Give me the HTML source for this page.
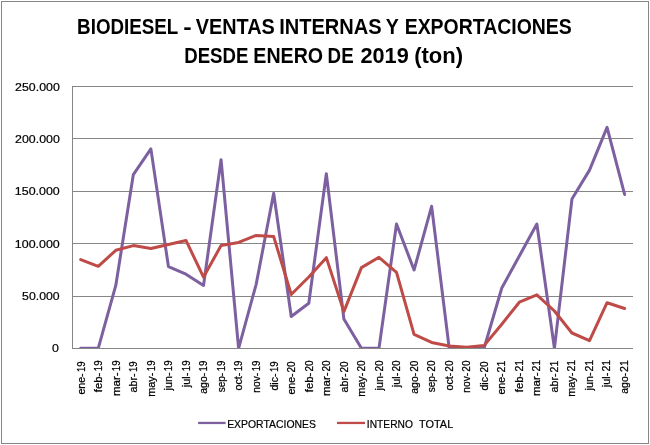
<!DOCTYPE html>
<html lang="es">
<head>
<meta charset="utf-8">
<title>BIODIESEL - VENTAS INTERNAS Y EXPORTACIONES</title>
<style>
html,body{margin:0;padding:0;background:#fff;}
body{width:650px;height:445px;overflow:hidden;}
svg{display:block;}
text{font-family:"Liberation Sans",sans-serif;fill:#000;}
.t{font-weight:bold;font-size:22px;}
.a{font-size:11px;stroke:#000;stroke-width:0.2px;}
.x{font-size:11px;stroke:#000;stroke-width:0.25px;}
</style>
</head>
<body>
<svg width="650" height="445" viewBox="0 0 650 445">
<rect x="0" y="0" width="650" height="445" fill="#fff"/>
<rect x="1.5" y="1.5" width="647" height="442" fill="none" stroke="#868686" stroke-width="1" shape-rendering="crispEdges"/>
<text class="t" y="34"><tspan x="77.12" textLength="100.87" lengthAdjust="spacingAndGlyphs">BIODIESEL</tspan> <tspan x="183.24" textLength="8.41" lengthAdjust="spacingAndGlyphs">-</tspan> <tspan x="195.77" textLength="79.00" lengthAdjust="spacingAndGlyphs">VENTAS</tspan> <tspan x="279.13" textLength="102.54" lengthAdjust="spacingAndGlyphs">INTERNAS</tspan> <tspan x="385.87" textLength="12.71" lengthAdjust="spacingAndGlyphs">Y</tspan> <tspan x="404.67" textLength="167.14" lengthAdjust="spacingAndGlyphs">EXPORTACIONES</tspan></text>
<text class="t" y="63"><tspan x="184.23" textLength="64.14" lengthAdjust="spacingAndGlyphs">DESDE</tspan> <tspan x="253.36" textLength="69.73" lengthAdjust="spacingAndGlyphs">ENERO</tspan> <tspan x="327.62" textLength="26.07" lengthAdjust="spacingAndGlyphs">DE</tspan> <tspan x="360.46" textLength="48.28" lengthAdjust="spacingAndGlyphs">2019</tspan> <tspan x="414.20" textLength="48.91" lengthAdjust="spacingAndGlyphs">(ton)</tspan></text>
<defs><clipPath id="pc"><rect x="72" y="86" width="562" height="262"/></clipPath></defs>
<g stroke="#868686" stroke-width="1" fill="none" shape-rendering="crispEdges">
<line x1="72" y1="86.5" x2="633" y2="86.5"/>
<line x1="72" y1="138.5" x2="633" y2="138.5"/>
<line x1="72" y1="191.5" x2="633" y2="191.5"/>
<line x1="72" y1="243.5" x2="633" y2="243.5"/>
<line x1="72" y1="296.5" x2="633" y2="296.5"/>
</g>
<g>
<text class="a" x="15.14" y="90.6" textLength="44.64" lengthAdjust="spacingAndGlyphs">250.000</text>
<text class="a" x="15.14" y="142.6" textLength="44.64" lengthAdjust="spacingAndGlyphs">200.000</text>
<text class="a" x="14.85" y="194.6" textLength="44.93" lengthAdjust="spacingAndGlyphs">150.000</text>
<text class="a" x="14.85" y="247.6" textLength="44.93" lengthAdjust="spacingAndGlyphs">100.000</text>
<text class="a" x="22.14" y="299.6" textLength="37.51" lengthAdjust="spacingAndGlyphs">50.000</text>
<text class="a" x="51.94" y="351.6" textLength="6.88" lengthAdjust="spacingAndGlyphs">0</text>
</g>
<g clip-path="url(#pc)" fill="none" stroke-width="3" stroke-linejoin="round" stroke-linecap="round">
<polyline stroke="#7D60A0" points="80.70,348.30 98.25,348.30 115.79,285.42 133.34,174.54 150.88,148.87 168.43,266.56 185.97,274.21 203.52,285.42 221.06,159.66 238.61,348.30 256.15,284.37 273.69,193.20 291.24,316.55 308.79,303.24 326.33,173.70 343.88,318.96 361.42,348.30 378.97,348.30 396.51,224.01 414.06,270.01 431.60,206.30 449.15,347.78 466.69,348.30 484.24,347.78 501.78,288.04 519.33,256.08 536.87,224.01 554.42,348.30 571.96,198.96 589.51,170.14 607.05,127.38 624.60,194.45"/>
<polyline stroke="#BE4B48" points="80.70,259.64 98.25,266.35 115.79,250.31 133.34,245.60 150.88,248.53 168.43,244.55 185.97,240.46 203.52,277.04 221.06,245.60 238.61,242.45 256.15,235.43 273.69,236.58 291.24,294.54 308.79,277.04 326.33,257.65 343.88,311.62 361.42,267.60 378.97,257.33 396.51,272.42 414.06,334.36 431.60,342.43 449.15,345.99 466.69,347.25 484.24,345.37 501.78,324.20 519.33,302.19 536.87,294.85 554.42,310.99 571.96,333.00 589.51,340.65 607.05,302.71 624.60,308.48"/>
</g>
<g stroke="#868686" stroke-width="1" fill="none" shape-rendering="crispEdges">
<line x1="72" y1="348.5" x2="633" y2="348.5"/>
<line x1="72.5" y1="86" x2="72.5" y2="349"/>
</g>
<g>
<text class="x" transform="translate(84.80 0) rotate(-90)" y="0"><tspan x="-394.58" textLength="21.09" lengthAdjust="spacingAndGlyphs">ene-</tspan><tspan x="-372.05" textLength="10.69" lengthAdjust="spacingAndGlyphs">19</tspan></text>
<text class="x" transform="translate(102.32 0) rotate(-90)" y="0"><tspan x="-392.26" textLength="19.64" lengthAdjust="spacingAndGlyphs">feb-</tspan><tspan x="-371.15" textLength="10.69" lengthAdjust="spacingAndGlyphs">19</tspan></text>
<text class="x" transform="translate(119.84 0) rotate(-90)" y="0"><tspan x="-396.08" textLength="23.62" lengthAdjust="spacingAndGlyphs">mar-</tspan><tspan x="-371.15" textLength="10.69" lengthAdjust="spacingAndGlyphs">19</tspan></text>
<text class="x" transform="translate(137.36 0) rotate(-90)" y="0"><tspan x="-392.49" textLength="19.03" lengthAdjust="spacingAndGlyphs">abr-</tspan><tspan x="-372.05" textLength="10.69" lengthAdjust="spacingAndGlyphs">19</tspan></text>
<text class="x" transform="translate(154.88 0) rotate(-90)" y="0"><tspan x="-396.84" textLength="24.19" lengthAdjust="spacingAndGlyphs">may-</tspan><tspan x="-371.15" textLength="10.69" lengthAdjust="spacingAndGlyphs">19</tspan></text>
<text class="x" transform="translate(172.40 0) rotate(-90)" y="0"><tspan x="-390.46" textLength="17.94" lengthAdjust="spacingAndGlyphs">jun-</tspan><tspan x="-371.15" textLength="10.69" lengthAdjust="spacingAndGlyphs">19</tspan></text>
<text class="x" transform="translate(189.92 0) rotate(-90)" y="0"><tspan x="-387.15" textLength="14.47" lengthAdjust="spacingAndGlyphs">jul-</tspan><tspan x="-371.15" textLength="10.69" lengthAdjust="spacingAndGlyphs">19</tspan></text>
<text class="x" transform="translate(207.44 0) rotate(-90)" y="0"><tspan x="-393.67" textLength="20.77" lengthAdjust="spacingAndGlyphs">ago-</tspan><tspan x="-371.45" textLength="10.69" lengthAdjust="spacingAndGlyphs">19</tspan></text>
<text class="x" transform="translate(224.96 0) rotate(-90)" y="0"><tspan x="-392.25" textLength="19.42" lengthAdjust="spacingAndGlyphs">sep-</tspan><tspan x="-371.25" textLength="10.69" lengthAdjust="spacingAndGlyphs">19</tspan></text>
<text class="x" transform="translate(242.48 0) rotate(-90)" y="0"><tspan x="-390.49" textLength="17.87" lengthAdjust="spacingAndGlyphs">oct-</tspan><tspan x="-371.25" textLength="10.69" lengthAdjust="spacingAndGlyphs">19</tspan></text>
<text class="x" transform="translate(260.00 0) rotate(-90)" y="0"><tspan x="-392.70" textLength="19.87" lengthAdjust="spacingAndGlyphs">nov-</tspan><tspan x="-371.25" textLength="10.69" lengthAdjust="spacingAndGlyphs">19</tspan></text>
<text class="x" transform="translate(277.52 0) rotate(-90)" y="0"><tspan x="-390.48" textLength="16.94" lengthAdjust="spacingAndGlyphs">dic-</tspan><tspan x="-372.05" textLength="10.69" lengthAdjust="spacingAndGlyphs">19</tspan></text>
<text class="x" transform="translate(295.04 0) rotate(-90)" y="0"><tspan x="-394.58" textLength="21.09" lengthAdjust="spacingAndGlyphs">ene-</tspan><tspan x="-372.45" textLength="11.11" lengthAdjust="spacingAndGlyphs">20</tspan></text>
<text class="x" transform="translate(312.56 0) rotate(-90)" y="0"><tspan x="-392.26" textLength="19.64" lengthAdjust="spacingAndGlyphs">feb-</tspan><tspan x="-371.55" textLength="11.11" lengthAdjust="spacingAndGlyphs">20</tspan></text>
<text class="x" transform="translate(330.08 0) rotate(-90)" y="0"><tspan x="-396.08" textLength="23.62" lengthAdjust="spacingAndGlyphs">mar-</tspan><tspan x="-371.55" textLength="11.11" lengthAdjust="spacingAndGlyphs">20</tspan></text>
<text class="x" transform="translate(347.60 0) rotate(-90)" y="0"><tspan x="-392.49" textLength="19.03" lengthAdjust="spacingAndGlyphs">abr-</tspan><tspan x="-372.45" textLength="11.11" lengthAdjust="spacingAndGlyphs">20</tspan></text>
<text class="x" transform="translate(365.12 0) rotate(-90)" y="0"><tspan x="-396.84" textLength="24.19" lengthAdjust="spacingAndGlyphs">may-</tspan><tspan x="-371.55" textLength="11.11" lengthAdjust="spacingAndGlyphs">20</tspan></text>
<text class="x" transform="translate(382.64 0) rotate(-90)" y="0"><tspan x="-390.46" textLength="17.94" lengthAdjust="spacingAndGlyphs">jun-</tspan><tspan x="-371.55" textLength="11.11" lengthAdjust="spacingAndGlyphs">20</tspan></text>
<text class="x" transform="translate(400.16 0) rotate(-90)" y="0"><tspan x="-387.15" textLength="14.47" lengthAdjust="spacingAndGlyphs">jul-</tspan><tspan x="-371.55" textLength="11.11" lengthAdjust="spacingAndGlyphs">20</tspan></text>
<text class="x" transform="translate(417.68 0) rotate(-90)" y="0"><tspan x="-393.67" textLength="20.77" lengthAdjust="spacingAndGlyphs">ago-</tspan><tspan x="-371.85" textLength="11.11" lengthAdjust="spacingAndGlyphs">20</tspan></text>
<text class="x" transform="translate(435.20 0) rotate(-90)" y="0"><tspan x="-392.25" textLength="19.42" lengthAdjust="spacingAndGlyphs">sep-</tspan><tspan x="-371.65" textLength="11.11" lengthAdjust="spacingAndGlyphs">20</tspan></text>
<text class="x" transform="translate(452.72 0) rotate(-90)" y="0"><tspan x="-390.49" textLength="17.87" lengthAdjust="spacingAndGlyphs">oct-</tspan><tspan x="-371.65" textLength="11.11" lengthAdjust="spacingAndGlyphs">20</tspan></text>
<text class="x" transform="translate(470.24 0) rotate(-90)" y="0"><tspan x="-392.70" textLength="19.87" lengthAdjust="spacingAndGlyphs">nov-</tspan><tspan x="-371.65" textLength="11.11" lengthAdjust="spacingAndGlyphs">20</tspan></text>
<text class="x" transform="translate(487.76 0) rotate(-90)" y="0"><tspan x="-390.48" textLength="16.94" lengthAdjust="spacingAndGlyphs">dic-</tspan><tspan x="-372.45" textLength="11.11" lengthAdjust="spacingAndGlyphs">20</tspan></text>
<text class="x" transform="translate(505.28 0) rotate(-90)" y="0"><tspan x="-394.58" textLength="21.09" lengthAdjust="spacingAndGlyphs">ene-</tspan><tspan x="-372.48" textLength="11.76" lengthAdjust="spacingAndGlyphs">21</tspan></text>
<text class="x" transform="translate(522.80 0) rotate(-90)" y="0"><tspan x="-392.26" textLength="19.64" lengthAdjust="spacingAndGlyphs">feb-</tspan><tspan x="-371.58" textLength="11.76" lengthAdjust="spacingAndGlyphs">21</tspan></text>
<text class="x" transform="translate(540.32 0) rotate(-90)" y="0"><tspan x="-396.08" textLength="23.62" lengthAdjust="spacingAndGlyphs">mar-</tspan><tspan x="-371.58" textLength="11.76" lengthAdjust="spacingAndGlyphs">21</tspan></text>
<text class="x" transform="translate(557.84 0) rotate(-90)" y="0"><tspan x="-392.49" textLength="19.03" lengthAdjust="spacingAndGlyphs">abr-</tspan><tspan x="-372.48" textLength="11.76" lengthAdjust="spacingAndGlyphs">21</tspan></text>
<text class="x" transform="translate(575.36 0) rotate(-90)" y="0"><tspan x="-396.84" textLength="24.19" lengthAdjust="spacingAndGlyphs">may-</tspan><tspan x="-371.58" textLength="11.76" lengthAdjust="spacingAndGlyphs">21</tspan></text>
<text class="x" transform="translate(592.88 0) rotate(-90)" y="0"><tspan x="-390.46" textLength="17.94" lengthAdjust="spacingAndGlyphs">jun-</tspan><tspan x="-371.58" textLength="11.76" lengthAdjust="spacingAndGlyphs">21</tspan></text>
<text class="x" transform="translate(610.40 0) rotate(-90)" y="0"><tspan x="-387.15" textLength="14.47" lengthAdjust="spacingAndGlyphs">jul-</tspan><tspan x="-371.58" textLength="11.76" lengthAdjust="spacingAndGlyphs">21</tspan></text>
<text class="x" transform="translate(627.92 0) rotate(-90)" y="0"><tspan x="-393.67" textLength="20.77" lengthAdjust="spacingAndGlyphs">ago-</tspan><tspan x="-371.88" textLength="11.76" lengthAdjust="spacingAndGlyphs">21</tspan></text>
</g>
<line x1="198.1" y1="422.95" x2="225.6" y2="422.95" stroke="#7D60A0" stroke-width="2.3"/>
<text class="a" x="227.15" y="427.8" textLength="88.81" lengthAdjust="spacingAndGlyphs">EXPORTACIONES</text>
<line x1="337" y1="422.95" x2="365" y2="422.95" stroke="#BE4B48" stroke-width="2.3"/>
<text class="a" y="427.8"><tspan x="366.87" textLength="45.99" lengthAdjust="spacingAndGlyphs">INTERNO</tspan> <tspan x="419.05" textLength="34.18" lengthAdjust="spacingAndGlyphs">TOTAL</tspan></text>
</svg>
</body>
</html>
